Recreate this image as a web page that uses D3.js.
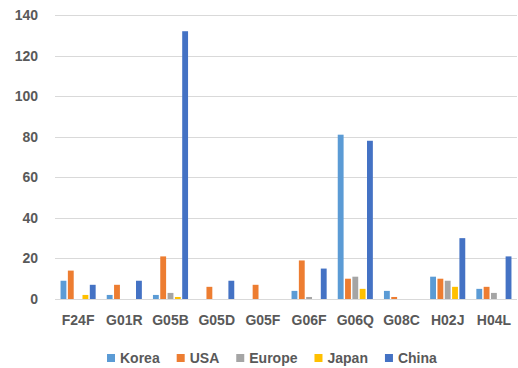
<!DOCTYPE html>
<html>
<head>
<meta charset="utf-8">
<script src="https://cdn.jsdelivr.net/npm/d3@7"></script>
<style>
  html, body { margin: 0; padding: 0; background: #fff; }
  svg { display: block; }
  text { font-family: "Liberation Sans", Arial, sans-serif; font-weight: bold; fill: #595959; }
</style>
</head>
<body>
<svg id="chart" width="518" height="368"></svg>
<script>
// Patent counts per IPC subclass, by applicant region
const categories = ["F24F", "G01R", "G05B", "G05D", "G05F", "G06F", "G06Q", "G08C", "H02J", "H04L"];
const korea  = [9, 2, 2, 0, 0, 4, 81, 4, 11, 5];
const usa    = [14, 7, 21, 6, 7, 19, 10, 1, 10, 6];
const europe = [0, 0, 3, 0, 0, 1, 11, 0, 9, 3];
const japan  = [2, 0, 1, 0, 0, 0, 5, 0, 6, 0];
const china  = [7, 9, 132, 9, 0, 15, 78, 0, 30, 21];
const seriesNames = ["Korea", "USA", "Europe", "Japan", "China"];
const yTicks = [0, 20, 40, 60, 80, 100, 120, 140];

const seriesValues = [korea, usa, europe, japan, china];
const colors = ["#5B9BD5", "#ED7D31", "#A5A5A5", "#FFC000", "#4472C4"];
const fontSize = 14;

const svg = d3.select("#chart");
const plotLeft = 55, plotRight = 517, plotTop = 15, plotBottom = 299;

const x = d3.scaleBand().domain(categories).range([plotLeft, plotRight])
  .paddingInner(0.24).paddingOuter(0.12);
const xs = d3.scaleBand().domain(seriesNames).range([0, x.bandwidth()]).paddingInner(0.2);
const y = d3.scaleLinear().domain([0, 140]).range([plotBottom, plotTop]);
const color = d3.scaleOrdinal().domain(seriesNames).range(colors);

// horizontal gridlines
svg.append("g")
  .selectAll("line")
  .data(yTicks)
  .join("line")
  .attr("x1", plotLeft).attr("x2", plotRight)
  .attr("y1", d => Math.round(y(d)) + 0.5).attr("y2", d => Math.round(y(d)) + 0.5)
  .attr("stroke", "#d9d9d9").attr("stroke-width", 1);

// y axis labels
const yAxis = d3.axisLeft(y).tickValues(yTicks).tickSize(0).tickPadding(0);
svg.append("g")
  .attr("transform", `translate(${plotLeft - 17},0)`)
  .call(yAxis)
  .call(g => g.select(".domain").remove())
  .call(g => g.selectAll("text").attr("font-size", fontSize).attr("font-family", null).attr("fill", null));

// x axis labels
const xAxis = d3.axisBottom(x).tickSize(0).tickPadding(0);
svg.append("g")
  .attr("transform", `translate(0,${plotBottom + 16})`)
  .call(xAxis)
  .call(g => g.select(".domain").remove())
  .call(g => g.selectAll("text").attr("font-size", fontSize).attr("font-family", null).attr("fill", null));

// bars
const rows = [];
categories.forEach((c, i) => {
  seriesNames.forEach((s, j) => rows.push({ cat: c, series: s, value: seriesValues[j][i] }));
});
svg.append("g")
  .selectAll("rect")
  .data(rows.filter(d => d.value > 0))
  .join("rect")
  .attr("x", d => x(d.cat) + xs(d.series))
  .attr("width", xs.bandwidth())
  .attr("y", d => y(d.value))
  .attr("height", d => y(0) - y(d.value))
  .attr("fill", d => color(d.series));

// legend
const legend = svg.append("g").attr("transform", "translate(0,358)");
let lx = 107;
seriesNames.forEach(s => {
  const item = legend.append("g").attr("transform", `translate(${lx},0)`);
  item.append("rect").attr("x", 0).attr("y", -4).attr("width", 8).attr("height", 8).attr("fill", color(s));
  const t = item.append("text").attr("x", 13).attr("y", 0).attr("dy", "0.35em")
    .attr("font-size", fontSize).text(s);
  lx += 13 + t.node().getComputedTextLength() + 17;
});
</script>
</body>
</html>
